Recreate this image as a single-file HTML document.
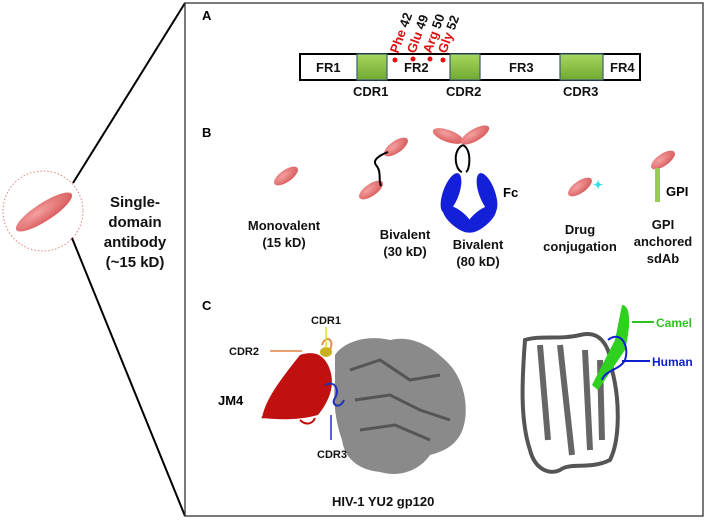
<!DOCTYPE html>
<html><head><style>
body{margin:0;background:#fff;}
svg text{font-family:"Liberation Sans",Arial,sans-serif;font-weight:bold;}
</style></head><body>
<svg width="709" height="523" viewBox="0 0 709 523" xmlns="http://www.w3.org/2000/svg">
<defs>
<radialGradient id="rg" cx="40%" cy="35%" r="70%"><stop offset="0" stop-color="#f4a0a0"/><stop offset="1" stop-color="#d85a5a"/></radialGradient>
<linearGradient id="gg" x1="0" y1="0" x2="0" y2="1"><stop offset="0" stop-color="#a8d860"/><stop offset="1" stop-color="#6fa830"/></linearGradient>
</defs>
<rect width="709" height="523" fill="#fff"/>
<circle cx="43" cy="211" r="40" fill="none" stroke="#e08080" stroke-dasharray="1.5,2" stroke-width="1"/>
<ellipse cx="44" cy="212" rx="33" ry="9" transform="rotate(-33 44 212)" fill="url(#rg)"/>
<line x1="73" y1="183" x2="185" y2="3" stroke="#000" stroke-width="2"/>
<line x1="72" y1="238" x2="185" y2="516" stroke="#000" stroke-width="2"/>
<g font-size="15" text-anchor="middle" fill="#111">
<text x="135" y="207">Single-</text><text x="135" y="227">domain</text><text x="135" y="247">antibody</text><text x="135" y="267">(~15 kD)</text></g>
<rect x="185" y="3" width="518" height="513" fill="none" stroke="#333" stroke-width="1.3"/>
<text x="202" y="20" font-size="13">A</text>
<rect x="300" y="54" width="340" height="26" fill="#fff" stroke="#000" stroke-width="2"/>
<rect x="357" y="54" width="30" height="26" fill="url(#gg)" stroke="#3a5f70" stroke-width="1.2"/>
<rect x="450" y="54" width="30" height="26" fill="url(#gg)" stroke="#3a5f70" stroke-width="1.2"/>
<rect x="560" y="54" width="43" height="26" fill="url(#gg)" stroke="#3a5f70" stroke-width="1.2"/>
<g font-size="13" fill="#111">
<text x="316" y="72">FR1</text><text x="404" y="72">FR2</text><text x="509" y="72">FR3</text><text x="610" y="72">FR4</text>
<text x="353" y="96">CDR1</text><text x="446" y="96">CDR2</text><text x="563" y="96">CDR3</text></g>
<g fill="#e01010"><circle cx="395" cy="60" r="2.5"/><circle cx="413" cy="59" r="2.5"/><circle cx="430" cy="59" r="2.5"/><circle cx="443" cy="60" r="2.5"/></g>
<g font-size="13">
<text transform="translate(398 54) rotate(-70)"><tspan fill="#e01010">Phe </tspan><tspan fill="#111">42</tspan></text>
<text transform="translate(415 54) rotate(-70)"><tspan fill="#e01010">Glu </tspan><tspan fill="#111">49</tspan></text>
<text transform="translate(431 54) rotate(-70)"><tspan fill="#e01010">Arg </tspan><tspan fill="#111">50</tspan></text>
<text transform="translate(446 54) rotate(-70)"><tspan fill="#e01010">Gly </tspan><tspan fill="#111">52</tspan></text></g>
<text x="202" y="137" font-size="13">B</text>
<g fill="url(#rg)">
<ellipse cx="286" cy="176" rx="14" ry="6" transform="rotate(-35 286 176)"/>
<ellipse cx="396" cy="147" rx="14" ry="6" transform="rotate(-35 396 147)"/>
<ellipse cx="371" cy="190" rx="14" ry="6" transform="rotate(-35 371 190)"/>
<ellipse cx="448" cy="136" rx="16" ry="6" transform="rotate(20 448 136)"/>
<ellipse cx="475" cy="135" rx="16" ry="6" transform="rotate(-30 475 135)"/>
<ellipse cx="580" cy="187" rx="14" ry="6" transform="rotate(-35 580 187)"/>
<ellipse cx="663" cy="160" rx="14" ry="6" transform="rotate(-35 663 160)"/>
</g>
<path d="M388 152 C380 155,372 160,376 165 C382 172,378 180,381 186" fill="none" stroke="#000" stroke-width="2"/>
<path d="M463 145 C452 150,455 170,462 172 M463 145 C472 150,470 170,466 172" fill="none" stroke="#000" stroke-width="2"/>
<g fill="#1420d8">
<ellipse cx="451" cy="193" rx="8" ry="21" transform="rotate(20 451 193)"/>
<ellipse cx="487" cy="193" rx="8" ry="21" transform="rotate(-20 487 193)"/>
<ellipse cx="458" cy="219" rx="8" ry="19" transform="rotate(-50 458 219)"/>
<ellipse cx="481" cy="219" rx="8" ry="19" transform="rotate(50 481 219)"/>
</g>
<text x="503" y="197" font-size="13">Fc</text>
<text x="593" y="189" font-size="12" fill="#30e0f0">✦</text>
<rect x="655" y="168" width="5" height="34" fill="#98cc50"/>
<text x="666" y="196" font-size="13">GPI</text>
<g font-size="13" text-anchor="middle" fill="#111">
<text x="284" y="230">Monovalent</text><text x="284" y="247">(15 kD)</text>
<text x="405" y="239">Bivalent</text><text x="405" y="256">(30 kD)</text>
<text x="478" y="249">Bivalent</text><text x="478" y="266">(80 kD)</text>
<text x="580" y="234">Drug</text><text x="580" y="251">conjugation</text>
<text x="663" y="229">GPI</text><text x="663" y="246">anchored</text><text x="663" y="263">sdAb</text></g>
<text x="202" y="310" font-size="13">C</text>
<path d="M335 355 C345 340,370 335,390 340 C410 335,430 345,445 360 C462 375,468 400,465 420 C462 440,450 450,430 455 C420 470,400 478,380 472 C360 470,345 460,342 440 C335 420,333 400,335 380 Z" fill="#8a8a8a"/>
<path d="M350 370 L380 360 L410 380 L440 375 M355 400 L390 395 L420 410 L450 420 M360 430 L395 425 L430 440" stroke="#555" stroke-width="3" fill="none"/>
<path d="M300 355 C315 350,325 355,330 370 C335 385,330 400,318 415 C300 420,280 420,262 418 C265 400,280 380,300 355 Z" fill="#c01010"/>
<path d="M262 418 C270 410,268 400,280 395 M300 420 C305 425,312 425,315 418" stroke="#c01010" stroke-width="2" fill="none"/>
<path d="M322 345 C325 335,335 338,330 350" stroke="#e09050" stroke-width="2" fill="none"/>
<ellipse cx="326" cy="352" rx="6" ry="5" fill="#c8b020"/>
<path d="M325 385 C335 380,340 390,335 398 C330 405,340 410,344 400" stroke="#2030c0" stroke-width="2" fill="none"/>
<line x1="270" y1="351" x2="302" y2="351" stroke="#e08040" stroke-width="1.5"/>
<line x1="326" y1="327" x2="326" y2="348" stroke="#e0e020" stroke-width="1.5"/>
<line x1="331" y1="440" x2="331" y2="415" stroke="#2030c0" stroke-width="1.5"/>
<g font-size="11" fill="#111"><text x="311" y="324">CDR1</text><text x="229" y="355">CDR2</text><text x="317" y="458">CDR3</text></g>
<text x="218" y="405" font-size="13">JM4</text>
<text x="332" y="506" font-size="13" fill="#111">HIV-1 YU2 gp120</text>
<path d="M525 340 C540 335,560 340,580 335 C600 330,610 345,612 370 C620 400,620 440,610 460 C590 470,570 462,560 470 C550 475,535 470,530 450 C520 420,522 380,525 340 Z" fill="none" stroke="#555" stroke-width="4"/>
<path d="M540 345 L548 440 M560 345 L572 455 M585 350 L590 450 M600 360 L602 440" stroke="#666" stroke-width="6"/>
<path d="M622 305 C632 305,630 330,625 350 L598 390 L592 385 L615 340 Z" fill="#30d020"/>
<path d="M608 340 C620 330,630 345,625 360 C620 370,605 370,602 380" stroke="#1020d0" stroke-width="2" fill="none"/>
<line x1="632" y1="322" x2="654" y2="322" stroke="#30c020" stroke-width="2"/>
<line x1="622" y1="361" x2="650" y2="361" stroke="#1020d0" stroke-width="2"/>
<text x="656" y="327" font-size="12" fill="#30c020">Camel</text>
<text x="652" y="366" font-size="12" fill="#1020d0">Human</text>
</svg>
</body></html>
